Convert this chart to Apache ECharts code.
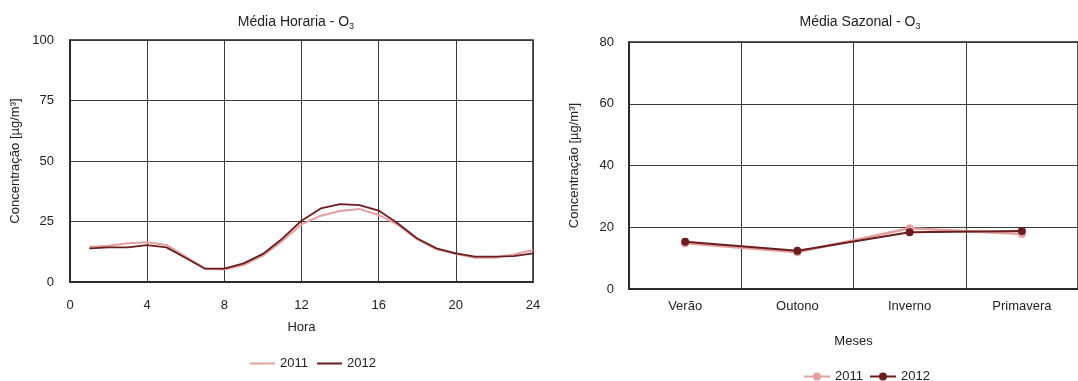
<!DOCTYPE html>
<html><head><meta charset="utf-8">
<script src="https://cdn.jsdelivr.net/npm/echarts@6/dist/echarts.min.js"></script>
<style>html,body{margin:0;padding:0;background:#fff}#c{width:1078px;height:381px}</style>
</head><body><div id="c"></div>
<script>
const hours = [1,2,3,4,5,6,7,8,9,10,11,12,13,14,15,16,17,18,19,20,21,22,23,24];
const hourly2011 = [14.6,15.0,16.0,16.4,15.3,10.5,5.5,5.2,7.0,10.9,16.9,23.8,27.4,29.3,30.2,27.7,23.6,17.6,13.5,11.6,10.0,10.0,11.4,13.2];
const hourly2012 = [13.9,14.3,14.3,15.2,14.3,9.9,5.5,5.5,7.7,11.6,17.9,25.3,30.4,32.2,31.8,29.5,24.2,18.0,13.9,11.8,10.5,10.5,10.7,11.8];
const seasons = ['Verão','Outono','Inverno','Primavera'];
const seasonal2011 = [14.8,11.9,19.7,17.8];
const seasonal2012 = [15.3,12.4,18.4,18.8];
const yearNames = ['2011','2012'];

const FONT = "'Liberation Sans Narrow','Arial Narrow','Liberation Sans',Arial,sans-serif";
const C11 = '#e3a0a0';
const C12 = '#6b1d1d';
const GRID = '#3a3a3a';
const txt = {fontFamily: FONT, fontSize: 13, color: '#222'};
const rich = {s: {fontFamily: FONT, fontSize: 9, color: '#222', padding: [8,0,0,0]}};

const chart = echarts.init(document.getElementById('c'));
chart.setOption({
  animation: false,
  title: [
    {text: 'Média Horaria - O{s|3}', left: 291, top: 9, textAlign: 'center',
     textStyle: {fontFamily: FONT, fontSize: 14, fontWeight: 'normal', color: '#222', rich: rich}},
    {text: 'Média Sazonal - O{s|3}', left: 855, top: 9, textAlign: 'center',
     textStyle: {fontFamily: FONT, fontSize: 14, fontWeight: 'normal', color: '#222', rich: rich}}
  ],
  grid: [
    {left: 70, top: 40, width: 463, height: 242, show: true, borderColor: '#222', borderWidth: 1.5},
    {left: 629, top: 42, width: 460, height: 247, show: true, borderColor: '#222', borderWidth: 1.5}
  ],
  legend: [
    {data: yearNames, left: 244, top: 352, itemWidth: 25, itemHeight: 2, itemGap: 8,
     textStyle: txt},
    {data: yearNames.map(n => n + ' s'), left: 798, top: 365, itemWidth: 26, itemHeight: 10, itemGap: 6,
     formatter: n => n.replace(' s',''), textStyle: txt}
  ],
  xAxis: [
    {type: 'value', gridIndex: 0, min: 0, max: 24, interval: 4,
     name: 'Hora', nameLocation: 'middle', nameGap: 39, nameTextStyle: txt,
     axisLine: {lineStyle: {color: '#222', width: 1.5}}, axisTick: {show: false},
     axisLabel: Object.assign({margin: 17}, txt),
     splitLine: {show: true, lineStyle: {color: GRID, width: 1}}},
    {type: 'category', gridIndex: 1, data: seasons, boundaryGap: true,
     name: 'Meses', nameLocation: 'middle', nameGap: 46, nameTextStyle: txt,
     axisLine: {lineStyle: {color: '#222', width: 1.5}}, axisTick: {show: false},
     axisLabel: Object.assign({margin: 11}, txt),
     splitLine: {show: true, lineStyle: {color: GRID, width: 1}}}
  ],
  yAxis: [
    {type: 'value', gridIndex: 0, min: 0, max: 100, interval: 25,
     name: 'Concentração [µg/m³]', nameLocation: 'middle', nameGap: 48, nameTextStyle: txt,
     axisLine: {show: true, lineStyle: {color: '#222', width: 1.5}}, axisTick: {show: false},
     axisLabel: Object.assign({margin: 16}, txt),
     splitLine: {show: true, lineStyle: {color: GRID, width: 1}}},
    {type: 'value', gridIndex: 1, min: 0, max: 80, interval: 20,
     name: 'Concentração [µg/m³]', nameLocation: 'middle', nameGap: 48, nameTextStyle: txt,
     axisLine: {show: true, lineStyle: {color: '#222', width: 1.5}}, axisTick: {show: false},
     axisLabel: Object.assign({margin: 15}, txt),
     splitLine: {show: true, lineStyle: {color: GRID, width: 1}}}
  ],
  series: [
    {name: '2011', type: 'line', xAxisIndex: 0, yAxisIndex: 0, symbol: 'none', legendIcon: 'rect',
     data: hours.map((h,i) => [h, hourly2011[i]]), lineStyle: {color: C11, width: 2}, itemStyle: {color: C11}},
    {name: '2012', type: 'line', xAxisIndex: 0, yAxisIndex: 0, symbol: 'none', legendIcon: 'rect',
     data: hours.map((h,i) => [h, hourly2012[i]]), lineStyle: {color: C12, width: 1.8}, itemStyle: {color: C12}},
    {name: '2011 s', type: 'line', xAxisIndex: 1, yAxisIndex: 1, symbol: 'circle', symbolSize: 8,
     data: seasonal2011, lineStyle: {color: C11, width: 2.5}, itemStyle: {color: C11}},
    {name: '2012 s', type: 'line', xAxisIndex: 1, yAxisIndex: 1, symbol: 'circle', symbolSize: 8,
     data: seasonal2012, lineStyle: {color: C12, width: 2}, itemStyle: {color: C12}}
  ]
});
</script></body></html>
